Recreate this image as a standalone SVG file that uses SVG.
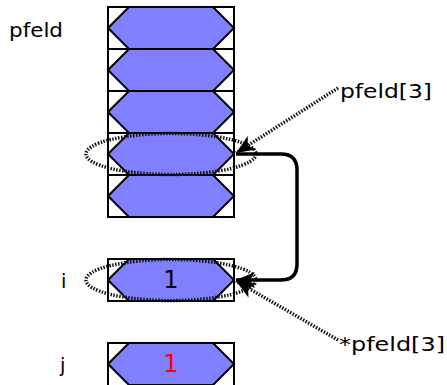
<svg xmlns="http://www.w3.org/2000/svg" width="447" height="385" viewBox="0 0 447 385">
<defs>
<style>
.cell{fill:#ffffff;stroke:#000;stroke-width:2}
.hex{fill:#8080ff;stroke:#000;stroke-width:2}
.lbl{font-family:"DejaVu Sans","Liberation Sans",sans-serif;font-size:19.5px;fill:#000}
.num{font-family:"DejaVu Sans","Liberation Sans",sans-serif;font-size:24px;text-anchor:middle}
.dot{fill:none;stroke:#111;stroke-width:3.5;stroke-dasharray:1.5,1.5}
.solid{fill:none;stroke:#000;stroke-width:3.5}
</style>
<marker id="ah" markerUnits="userSpaceOnUse" markerWidth="26" markerHeight="22" viewBox="-22 -11 26 22" refX="0" refY="0" orient="auto">
<path d="M0,0 L-19,-8 L-14,0 L-19,8 Z" fill="#000"/>
</marker>
</defs>
<rect width="447" height="385" fill="#fff"/>
<g id="pfeld">
<g id="cell0"><rect class="cell" x="108" y="7" width="126" height="42"/><polygon class="hex" points="108,28 129,7 213,7 234,28 213,49 129,49"/></g>
<g id="cell1"><rect class="cell" x="108" y="49" width="126" height="42"/><polygon class="hex" points="108,70 129,49 213,49 234,70 213,91 129,91"/></g>
<g id="cell2"><rect class="cell" x="108" y="91" width="126" height="42"/><polygon class="hex" points="108,112 129,91 213,91 234,112 213,133 129,133"/></g>
<g id="cell3"><rect class="cell" x="108" y="133" width="126" height="42"/><polygon class="hex" points="108,154 129,133 213,133 234,154 213,175 129,175"/></g>
<g id="cell4"><rect class="cell" x="108" y="175" width="126" height="42"/><polygon class="hex" points="108,196 129,175 213,175 234,196 213,217 129,217"/></g>
<text class="lbl" x="9" y="36.7" textLength="54" lengthAdjust="spacingAndGlyphs">pfeld</text>
</g>
<g id="i">
<rect class="cell" x="108" y="259" width="126" height="42"/><polygon class="hex" points="108,280 129,259 213,259 234,280 213,301 129,301"/>
<text class="num" x="171" y="288" fill="#000">1</text>
<text class="lbl" x="61" y="288" font-size="21">i</text>
</g>
<g id="j">
<rect class="cell" x="108" y="343" width="126" height="44"/><polygon class="hex" points="108,364 129,343 213,343 234,364 213,385 129,385"/>
<text class="num" x="171" y="372" fill="#ff0000">1</text>
<text class="lbl" x="60" y="372" font-size="21">j</text>
</g>
<g id="highlights">
<ellipse class="dot" cx="171" cy="154" rx="85" ry="20.5"/>
<ellipse class="dot" cx="171" cy="280" rx="85" ry="20.5"/>
</g>
<g id="labels">
<text class="lbl" x="340" y="98" textLength="92" lengthAdjust="spacingAndGlyphs">pfeld[3]</text>
<text class="lbl" x="339" y="351" textLength="106" lengthAdjust="spacingAndGlyphs">*pfeld[3]</text>
</g>
<g id="connectors">
<path class="solid" d="M236,154 H281 Q297,154 297,170 V264 Q297,280 281,280 H236" marker-end="url(#ah)"/>
<line class="dot" x1="338" y1="88" x2="236" y2="153" marker-end="url(#ah)"/>
<line class="dot" x1="338" y1="340" x2="236" y2="281" marker-end="url(#ah)"/>
</g>
</svg>
